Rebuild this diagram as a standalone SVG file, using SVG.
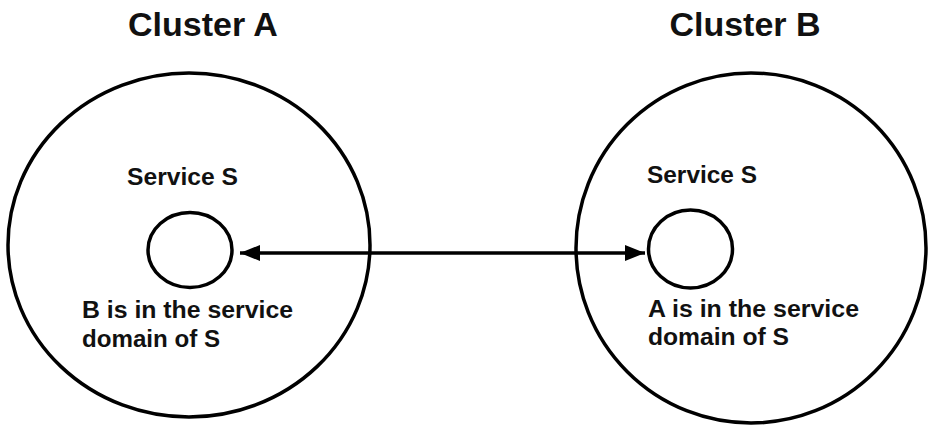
<svg xmlns="http://www.w3.org/2000/svg" width="928" height="425" viewBox="0 0 928 425">
<style>
.ring{fill:none;stroke:#000;stroke-width:3.5}
.svc{fill:none;stroke:#000;stroke-width:3.5}
.title{font-family:"Liberation Sans",Arial,sans-serif;font-weight:bold;font-size:34px;fill:#111}
.lbl{font-family:"Liberation Sans",Arial,sans-serif;font-weight:bold;font-size:23px;fill:#111}
.conn{stroke:#000;stroke-width:3.5;fill:none}
</style>
<defs>
<marker id="ah" markerUnits="userSpaceOnUse" markerWidth="22" markerHeight="18" refX="20" refY="9" orient="auto-start-reverse">
<path d="M0,1 L20,9 L0,17 Z" fill="#000"/>
</marker>
</defs>
<g id="clusterA">
<text class="title" x="203" y="36" text-anchor="middle">Cluster A</text>
<ellipse class="ring" cx="189" cy="245" rx="181" ry="172"/>
</g>
<g id="serviceA">
<text class="lbl" x="127" y="185" textLength="111" lengthAdjust="spacingAndGlyphs">Service S</text>
<ellipse class="svc" cx="190" cy="250" rx="42" ry="37.5"/>
<text class="lbl" x="82" y="318" textLength="211" lengthAdjust="spacingAndGlyphs">B is in the service</text>
<text class="lbl" x="82" y="347" textLength="138" lengthAdjust="spacingAndGlyphs">domain of S</text>
</g>
<g id="clusterB">
<text class="title" x="745" y="36" text-anchor="middle">Cluster B</text>
<ellipse class="ring" cx="751" cy="248" rx="175" ry="175"/>
</g>
<g id="serviceB">
<text class="lbl" x="647" y="183" textLength="110" lengthAdjust="spacingAndGlyphs">Service S</text>
<ellipse class="svc" cx="690.5" cy="249" rx="42" ry="39"/>
<text class="lbl" x="648" y="317" textLength="211" lengthAdjust="spacingAndGlyphs">A is in the service</text>
<text class="lbl" x="648" y="345" textLength="141" lengthAdjust="spacingAndGlyphs">domain of S</text>
</g>
<g id="connectors">
<line class="conn" x1="240" y1="253" x2="645" y2="253" marker-start="url(#ah)" marker-end="url(#ah)"/>
</g>
</svg>
